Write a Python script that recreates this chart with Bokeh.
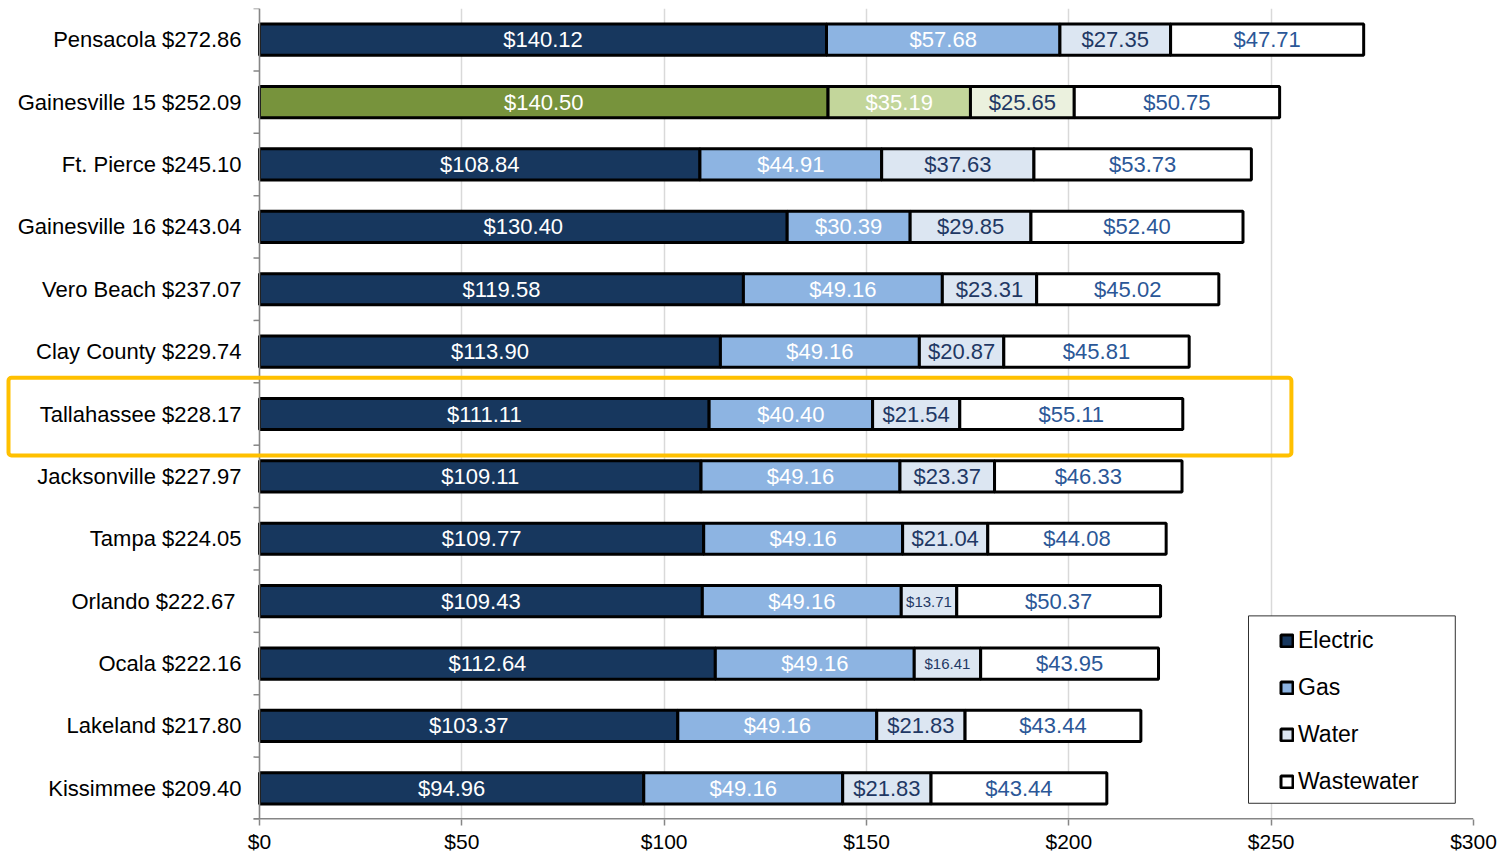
from bokeh.plotting import figure
from bokeh.models import (ColumnDataSource, Range1d, FixedTicker, PrintfTickFormatter,
                          BoxAnnotation, Legend, LegendItem, Span)
from bokeh.core.properties import value
from bokeh.embed import file_html
from bokeh.resources import INLINE

# ---------------- data ----------------
cities = ["Pensacola", "Gainesville 15", "Ft. Pierce", "Gainesville 16", "Vero Beach",
          "Clay County", "Tallahassee", "Jacksonville", "Tampa", "Orlando ", "Ocala",
          "Lakeland", "Kissimmee"]
totals = [272.86, 252.09, 245.10, 243.04, 237.07, 229.74, 228.17, 227.97, 224.05,
          222.67, 222.16, 217.80, 209.40]
electric = [140.12, 140.50, 108.84, 130.40, 119.58, 113.90, 111.11, 109.11, 109.77,
            109.43, 112.64, 103.37, 94.96]
gas = [57.68, 35.19, 44.91, 30.39, 49.16, 49.16, 40.40, 49.16, 49.16, 49.16, 49.16,
       49.16, 49.16]
water = [27.35, 25.65, 37.63, 29.85, 23.31, 20.87, 21.54, 23.37, 21.04, 13.71, 16.41,
         21.83, 21.83]
wastewater = [47.71, 50.75, 53.73, 52.40, 45.02, 45.81, 55.11, 46.33, 44.08, 50.37,
              43.95, 43.44, 43.44]
series_names = ["Electric", "Gas", "Water", "Wastewater"]
x_ticks = [0, 50, 100, 150, 200, 250, 300]
highlight_city = "Tallahassee"
special_city = "Gainesville 15"

# ---------------- styles / layout ----------------
FONT = "Liberation Sans"
base_colors = ["#17375E", "#8DB4E2", "#DCE6F2", "#FFFFFF"]
green_colors = ["#77933C", "#C3D69B", "#EBF1DE", "#FFFFFF"]
text_colors = ["#FFFFFF", "#FFFFFF", "#1F3864", "#2B5797"]
AXIS_GRAY = "#868686"

W, H = 1503, 855
LABEL_AREA = 259          # px reserved left of $0 for the category labels
RIGHT_BORDER = 30
TOP_BORDER = 8
BOTTOM_BORDER = 34
frame_w = W - RIGHT_BORDER
px_per_unit = (frame_w - LABEL_AREA) / (x_ticks[-1] - x_ticks[0])
x_min = -LABEL_AREA / px_per_unit
tick_len = 6 / px_per_unit

n = len(cities)
ys = list(range(n))
labels = [f"{c} ${t:.2f}" for c, t in zip(cities, totals)]

p = figure(width=W, height=H, output_backend="svg", toolbar_location=None,
           x_range=Range1d(x_min, x_ticks[-1]), y_range=Range1d(n - 0.5, -0.5),
           min_border_left=0, min_border_right=RIGHT_BORDER, min_border_top=TOP_BORDER,
           min_border_bottom=BOTTOM_BORDER)
p.outline_line_color = None
p.background_fill_color = "white"
p.border_fill_color = "white"
p.yaxis.visible = False

# grid
p.xgrid.ticker = FixedTicker(ticks=x_ticks)
p.xgrid.grid_line_color = "#D9D9D9"
p.xgrid.grid_line_width = 1.5
p.ygrid.grid_line_color = None

# y axis line and boundary ticks
p.add_layout(Span(location=0, dimension="height", line_color=AXIS_GRAY, line_width=1.5))
bounds = [i - 0.5 for i in range(n + 1)]
p.segment(x0=[-tick_len] * len(bounds), x1=[0] * len(bounds), y0=bounds, y1=bounds,
          line_color=AXIS_GRAY, line_width=1.5)
# x axis line (starts at the left tick)
p.segment(x0=[-tick_len], x1=[x_ticks[-1]], y0=[n - 0.5], y1=[n - 0.5],
          line_color=AXIS_GRAY, line_width=3)

# category labels
p.text(x=[0] * n, y=ys, text=labels, x_offset=-18, text_align="right",
       text_baseline="middle", text_color="black", text_font=value(FONT),
       text_font_size="22px")

# stacked bars
series = [electric, gas, water, wastewater]
renderers = []
left = [0.0] * n
for k, vals in enumerate(series):
    right = [l + v for l, v in zip(left, vals)]
    fills = [green_colors[k] if c == special_city else base_colors[k] for c in cities]
    fs = ["15px" if (k == 2 and v < 17) else "22px" for v in vals]
    src = ColumnDataSource(dict(
        y=ys, left=left, right=right, fill=fills,
        mid=[(a + b) / 2 for a, b in zip(left, right)],
        txt=[f"${v:.2f}" for v in vals], fs=fs))
    r = p.hbar(y="y", left="left", right="right", height=0.5, source=src,
               fill_color="fill", line_color="black", line_width=3)
    renderers.append(r)
    p.text(x="mid", y="y", text="txt", source=src, text_align="center",
           text_baseline="middle", text_color=text_colors[k], text_font=value(FONT),
           text_font_size="fs")
    left = right

# x axis (ticks + labels; line drawn above)
p.xaxis.ticker = FixedTicker(ticks=x_ticks)
p.xaxis.formatter = PrintfTickFormatter(format="$%d")
p.xaxis.axis_line_color = None
p.xaxis.major_tick_line_color = AXIS_GRAY
p.xaxis.major_tick_line_width = 1.5
p.xaxis.major_tick_out = 6
p.xaxis.major_tick_in = 0
p.xaxis.minor_tick_line_color = None
p.xaxis.major_label_text_font = FONT
p.xaxis.major_label_text_font_size = "21px"
p.xaxis.major_label_text_color = "black"
p.xaxis.major_label_standoff = 4

# highlight box around Tallahassee
hi = cities.index(highlight_city)
p.add_layout(BoxAnnotation(left=x_min + 8 / px_per_unit, right=255.0,
                           top=hi - 0.58, bottom=hi + 0.665,
                           fill_alpha=0, line_color="#FFC000", line_alpha=1,
                           line_width=4, border_radius=3, level="annotation"))

# legend box
p.add_layout(BoxAnnotation(left=244.4, right=295.5, top=9.236, bottom=12.24,
                           fill_color="white", fill_alpha=1, line_color="#303030",
                           line_alpha=1, line_width=1, level="annotation"))

legend = Legend(items=[LegendItem(label=nm, renderers=[r], index=0)
                       for nm, r in zip(series_names, renderers)],
                location=(1279, 23), padding=0, margin=0, spacing=17,
                label_height=30, glyph_width=15, glyph_height=15, label_standoff=4,
                label_text_font=FONT, label_text_font_size="23px",
                label_text_color="black", border_line_color=None,
                background_fill_alpha=0)
p.add_layout(legend, "center")

open("out.html", "w").write(file_html(p, INLINE))
